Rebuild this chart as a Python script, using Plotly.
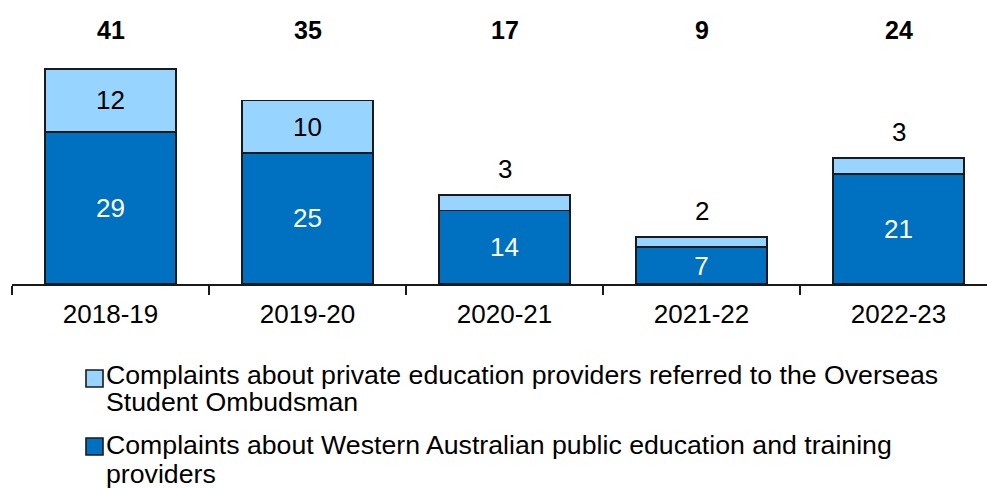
import plotly.graph_objects as go

# Complaints received per financial year, split by provider type
years = ["2018-19", "2019-20", "2020-21", "2021-22", "2022-23"]
public_wa = [29, 25, 14, 7, 21]
private_osp = [12, 10, 3, 2, 3]
totals = [a + b for a, b in zip(public_wa, private_osp)]

legend_names = [
    ["Complaints about private education providers referred to the Overseas",
     "Student Ombudsman"],
    ["Complaints about Western Australian public education and training",
     "providers"],
]

DARK = "#0070C0"
LIGHT = "#97D4FF"
EDGE = "#1a1a1a"
FONT = "Liberation Sans, Arial, sans-serif"

W, H = 987, 488
L, T, B = 12, 11, 204
PLOT_W = W - L
PLOT_H = H - T - B
Y_MAX = 52.06
CAT_PX = 197.0


def px_x(p):
    return (p - L) / PLOT_W


def px_y(p):
    return (H - B - p) / PLOT_H


# Small private-provider counts sit above the bar, larger ones inside it
inside_private = [v >= 5 for v in private_osp]

fig = go.Figure()
fig.add_trace(go.Bar(
    x=years, y=public_wa, name=" ".join(legend_names[1]),
    marker=dict(color=DARK, line=dict(color=EDGE, width=1.6)),
    text=[str(v) for v in public_wa], textposition="inside",
    insidetextanchor="middle", constraintext="none",
    textfont=dict(family=FONT, size=26, color="white"),
    showlegend=False,
))
fig.add_trace(go.Bar(
    x=years, y=private_osp, name=" ".join(legend_names[0]),
    marker=dict(color=LIGHT, line=dict(color=EDGE, width=1.6)),
    text=[str(v) if ins else "" for v, ins in zip(private_osp, inside_private)],
    textposition="inside", insidetextanchor="middle", constraintext="none",
    textfont=dict(family=FONT, size=26, color="black"),
    showlegend=False,
))

annotations = []
# Totals across the top
for yr, tot in zip(years, totals):
    annotations.append(dict(
        x=yr, y=48.4, xref="x", yref="y", text=f"<b>{tot}</b>",
        showarrow=False, font=dict(family=FONT, size=25, color="black"),
        yanchor="middle",
    ))
# Private counts that do not fit in their segment
for yr, tot, v, ins in zip(years, totals, private_osp, inside_private):
    if not ins:
        annotations.append(dict(
            x=yr, y=tot, xref="x", yref="y", text=str(v),
            showarrow=False, font=dict(family=FONT, size=26, color="black"),
            yanchor="middle", yshift=26,
        ))

# Legend drawn as swatches plus wrapped text lines
shapes = []
legend_rows = [(378.5, [375, 402], LIGHT), (446.5, [445, 474], DARK)]
for (sq_y, line_ys, col), lines in zip(legend_rows, legend_names):
    shapes.append(dict(
        type="rect", xref="paper", yref="paper",
        x0=px_x(86), x1=px_x(103), y0=px_y(sq_y + 8.5), y1=px_y(sq_y - 8.5),
        fillcolor=col, line=dict(color=EDGE, width=1.6),
    ))
    for ly, txt in zip(line_ys, lines):
        annotations.append(dict(
            x=px_x(104), y=px_y(ly), xref="paper", yref="paper",
            text=txt, showarrow=False, xanchor="left", yanchor="middle",
            font=dict(family=FONT, size=26.7, color="black"),
        ))

fig.update_layout(
    width=W, height=H,
    margin=dict(l=L, r=0, t=T, b=B, pad=0),
    barmode="stack", bargap=0.335,
    plot_bgcolor="white", paper_bgcolor="white",
    font=dict(family=FONT, size=26, color="black"),
    xaxis=dict(
        range=[-0.5, -0.5 + PLOT_W / CAT_PX],
        tickson="boundaries", ticks="outside", ticklen=9, tickwidth=1.5,
        tickcolor=EDGE, showline=True, linecolor=EDGE, linewidth=2,
        tickfont=dict(family=FONT, size=26, color="black"),
        ticklabelstandoff=6, fixedrange=True,
    ),
    yaxis=dict(
        range=[0, Y_MAX], visible=False, showgrid=False, zeroline=False,
    ),
    annotations=annotations, shapes=shapes,
)

fig.write_html("out.html")
